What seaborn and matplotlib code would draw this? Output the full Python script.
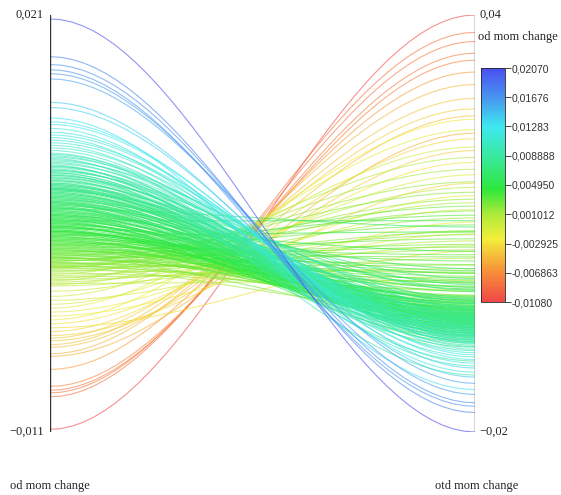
import numpy as np
import pandas as pd
import matplotlib
matplotlib.use('Agg')
import matplotlib.pyplot as plt
import seaborn as sns
from matplotlib.colors import LinearSegmentedColormap, Normalize

# left axis values (od mom change), also used for colour
od_mom_change = [
    0.0207, 0.0178, 0.0172, 0.0168, 0.0165, 0.0161, 0.0143, 0.0139, 0.0131, 0.0128,
    0.0126, 0.0123, 0.0120, 0.0118, 0.0116, 0.0114, 0.0112, 0.0110, 0.0108, 0.0106,
    0.0104, 0.0103, 0.0102, 0.0101, 0.0100, 0.0099, 0.0098, 0.0097, 0.0096, 0.0095,
    0.0094, 0.0093, 0.0092, 0.0091, 0.0090, 0.0089, 0.0088, 0.0087, 0.0086, 0.0085,
    0.0084, 0.0083, 0.0082, 0.0081, 0.0080, 0.0079, 0.0078, 0.0078, 0.0077, 0.0077,
    0.0076, 0.0076, 0.0075, 0.0075, 0.0074,
    0.0073, 0.0072, 0.0071, 0.0070, 0.0069, 0.0068, 0.0067, 0.0066, 0.0065, 0.0064,
    0.0063, 0.0062, 0.0061, 0.0060, 0.0059, 0.0058, 0.0057, 0.0056, 0.0055, 0.0054,
    0.0053, 0.0052, 0.0051, 0.0050, 0.0049, 0.0048, 0.0047, 0.0046, 0.0045, 0.0044,
    0.0043, 0.0042, 0.0041, 0.0040, 0.0039, 0.0038, 0.0037, 0.0036, 0.0035, 0.0034,
    0.0033, 0.0032, 0.0031, 0.0030, 0.0056, 0.0052, 0.0048, 0.0044, 0.0062, 0.0066,
    0.0029, 0.0028, 0.0027, 0.0026, 0.0025, 0.0024, 0.0023, 0.0022, 0.0021, 0.0020,
    0.0019, 0.0018, 0.0017, 0.0016, 0.0015, 0.0014, 0.0013, 0.0012, 0.0011, 0.0010,
    0.0009, 0.0008, 0.0007, 0.0006, 0.0005, 0.0004, 0.0003, 0.0002, 0.0016, 0.0024,
    -0.0002, -0.0006, -0.0009, -0.0012, -0.0015, -0.0018, -0.0021, -0.0024, -0.0027, -0.0030,
    -0.0033, -0.0036, -0.0038, -0.0040, -0.0043,
    -0.0045, -0.0050, -0.0052, -0.0062, -0.0075, -0.0078, -0.0080, -0.0083, -0.0108,
    0.0094, 0.0091, 0.0089, 0.0087, 0.0085, 0.0083, 0.0081, 0.0080, 0.0079, 0.0077,
    0.0076, 0.0074, 0.0073, 0.0072, 0.0071, 0.0070, 0.0069, 0.0068, 0.0067, 0.0066,
    0.0065, 0.0064, 0.0063, 0.0062, 0.0061, 0.0060, 0.0059, 0.0058, 0.0057, 0.0056,
    0.0055, 0.0054, 0.0053, 0.0052, 0.0051, 0.0050, 0.0049, 0.0048, 0.0047, 0.0046,
    0.0045, 0.0044, 0.0043, 0.0042, 0.0041, 0.0040, 0.0039, 0.0038, 0.0037, 0.0036,
    0.0035, 0.0034, 0.0033, 0.0032, 0.0031, 0.0030, 0.0029, 0.0028, 0.0027, 0.0026,
    0.0025, 0.0024, 0.0023, 0.0022, 0.0021, 0.0020, 0.0019, 0.0018, 0.0017, 0.0016,
]

# right axis values (otd mom change)
otd_mom_change = [
    -0.0200, -0.0172, -0.0158, -0.0163, -0.0146, -0.0130, -0.0121, -0.0108, -0.0139, -0.0096,
    -0.0089, -0.0114, -0.0081, -0.0073, -0.0101, -0.0066, -0.0061, -0.0086, -0.0056, -0.0077,
    -0.0092, -0.0048, -0.0068, -0.0035, -0.0105, -0.0052, -0.0022, -0.0071, -0.0041, -0.0118,
    -0.0060, -0.0030, -0.0083, -0.0047, -0.0015, -0.0063, -0.0098, -0.0038, -0.0055, -0.0009,
    -0.0075, -0.0044, -0.0026, -0.0066, -0.0052, 0.0004, -0.0036, -0.0058, -0.0019, -0.0070,
    -0.0042, -0.0031, -0.0049, 0.0012, -0.0062,
    -0.0045, -0.0028, -0.0061, -0.0012, -0.0038, 0.0021, -0.0052, -0.0020, -0.0033, 0.0008,
    -0.0057, -0.0041, 0.0095, -0.0024, -0.0049, -0.0006, -0.0035, 0.0035, -0.0018, -0.0054,
    -0.0029, 0.0104, -0.0043, -0.0010, 0.0016, -0.0037, -0.0023, 0.0060, -0.0046, -0.0015,
    -0.0031, 0.0002, 0.0088, -0.0026, -0.0040, 0.0028, -0.0008, -0.0021, 0.0046, -0.0034,
    0.0112, -0.0013, 0.0019, -0.0003, -0.0064, -0.0068, -0.0058, -0.0050, -0.0072, -0.0078,
    0.0010, 0.0098, -0.0020, 0.0052, 0.0125, -0.0005, 0.0070, 0.0030, 0.0145, 0.0015,
    0.0088, -0.0012, 0.0040, 0.0160, 0.0062, 0.0022, 0.0108, 0.0005, 0.0178, 0.0075,
    0.0035, 0.0130, 0.0050, 0.0195, 0.0090, 0.0018, 0.0152, 0.0068, -0.0030, -0.0038,
    0.0120, 0.0210, 0.0085, 0.0170, 0.0235, 0.0140, 0.0102, 0.0250, 0.0188, 0.0060,
    0.0222, 0.0158, 0.0265, 0.0205, 0.0280,
    0.0255, 0.0300, 0.0230, 0.0318, 0.0335, 0.0345, 0.0362, 0.0375, 0.0400,
    -0.0070, -0.0052, -0.0064, -0.0045, -0.0058, -0.0039, -0.0050, -0.0067, -0.0032, -0.0055,
    -0.0044, -0.0060, -0.0027, -0.0048, -0.0036, -0.0062, -0.0041, -0.0053, -0.0030, -0.0046,
    -0.0057, -0.0022, -0.0039, -0.0050, -0.0034, -0.0044, -0.0016, -0.0055, -0.0037, -0.0025,
    -0.0047, -0.0031, -0.0040, -0.0011, -0.0052, -0.0028, -0.0035, -0.0043, -0.0019, -0.0033,
    -0.0046, -0.0024, 0.0006, -0.0038, -0.0014, -0.0029, 0.0032, -0.0042, -0.0021, -0.0007,
    -0.0036, 0.0014, -0.0026, 0.0055, -0.0017, -0.0032, 0.0024, -0.0004, 0.0078, -0.0023,
    0.0041, -0.0010, 0.0066, 0.0009, 0.0118, -0.0015, 0.0029, 0.0084, 0.0003, 0.0135,
]

left_range = (-0.011, 0.021)
right_range = (-0.02, 0.04)
cbar_ticks = [-0.01080, -0.006863, -0.002925, 0.001012, 0.004950,
              0.008888, 0.01283, 0.01676, 0.02070]
cbar_labels = ['-0,01080', '-0,006863', '-0,002925', '0,001012', '0,004950',
               '0,008888', '0,01283', '0,01676', '0,02070']

cmap = LinearSegmentedColormap.from_list('rb', [
    (0.0, '#f04848'), (0.12, '#f88a3a'), (0.27, '#f2ee3a'), (0.38, '#a8ea3a'),
    (0.48, '#2ee83a'), (0.6, '#38e890'), (0.75, '#3ee8f0'), (0.87, '#4898f0'),
    (1.0, '#4a4ef0')])
norm = Normalize(vmin=cbar_ticks[0], vmax=cbar_ticks[-1])

# build smooth curves between the two axes
t = np.linspace(0, 1, 40)
s = 3 * t**2 - 2 * t**3
rows = []
for i, (a, b) in enumerate(zip(od_mom_change, otd_mom_change)):
    ya = (a - left_range[0]) / (left_range[1] - left_range[0])
    yb = (b - right_range[0]) / (right_range[1] - right_range[0])
    for tt, ss in zip(t, s):
        rows.append((i, tt, ya + (yb - ya) * ss, a))
df = pd.DataFrame(rows, columns=['line', 'x', 'y', 'od'])

sns.set_style('white')
fig = plt.figure(figsize=(5.61, 4.95), dpi=100)
ax = fig.add_axes([50 / 561, 1 - 432 / 495, 425 / 561, 417 / 495])
sns.lineplot(data=df, x='x', y='y', hue='od', units='line', estimator=None,
             palette=cmap, hue_norm=norm, legend=False, sort=False,
             linewidth=0.8, alpha=0.6, ax=ax)
ax.set_xlim(0, 1)
ax.set_ylim(0, 1)
for sp in ax.spines.values():
    sp.set_visible(False)
ax.set_xticks([])
ax.set_yticks([])
ax.set_xlabel('')
ax.set_ylabel('')
ax.axvline(0, color='#333333', lw=1.0)
ax.axvline(1, color='#333333', lw=1.0)

serif = 'Liberation Serif'
ax.text(-0.015, 1.0, '0,021', ha='right', va='center', fontsize=9, family=serif)
ax.text(-0.015, 0.0, '\u22120,011', ha='right', va='center', fontsize=9, family=serif)
ax.text(1.01, 1.0, '0,04', ha='left', va='center', fontsize=9, family=serif)
ax.text(1.01, 0.0, '\u22120,02', ha='left', va='center', fontsize=9, family=serif)
fig.text(10 / 561, 1 - 486 / 495, 'od mom change', ha='left', va='center', fontsize=9, family=serif)
fig.text(435 / 561, 1 - 486 / 495, 'otd mom change', ha='left', va='center', fontsize=9, family=serif)
fig.text(478 / 561, 1 - 37 / 495, 'od mom change', ha='left', va='center', fontsize=9, family=serif)

cax = fig.add_axes([481 / 561, 1 - 302 / 495, 24 / 561, 234 / 495])
sm = plt.cm.ScalarMappable(cmap=cmap, norm=norm)
cb = fig.colorbar(sm, cax=cax, ticks=cbar_ticks)
cb.set_ticklabels(cbar_labels)
cb.outline.set_linewidth(0.6)
cax.tick_params(labelsize=7.5, length=4, width=0.6, pad=1, labelcolor='#333333')
for lab in cax.get_yticklabels():
    lab.set_family('Liberation Sans')

fig.savefig('out.png', dpi=100)
